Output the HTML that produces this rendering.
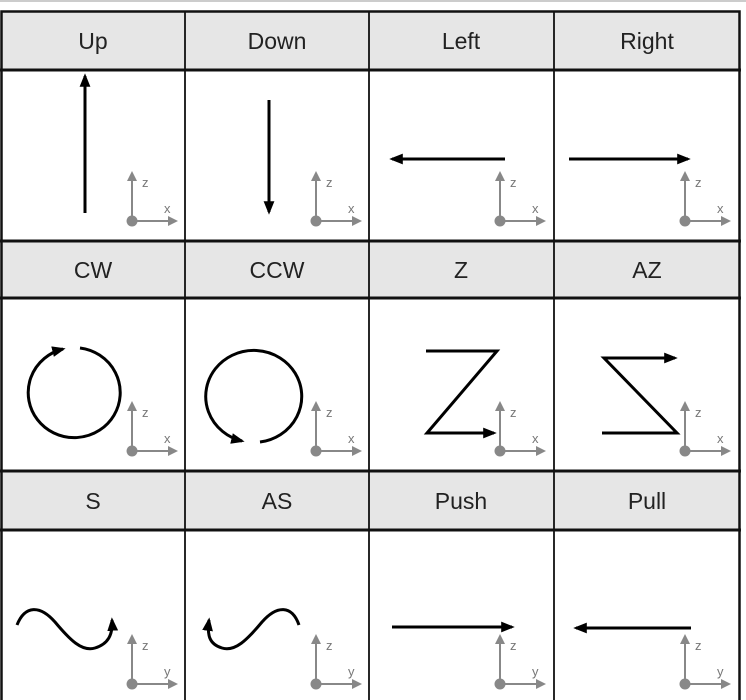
<!DOCTYPE html>
<html><head><meta charset="utf-8"><style>
html,body{margin:0;padding:0;background:#fff;}
svg{display:block;}
text{font-family:"Liberation Sans",sans-serif;}
</style></head><body>
<svg width="746" height="700" viewBox="0 0 746 700">
<defs>
<marker id="ah" viewBox="0 0 10 10" refX="8" refY="5" markerWidth="4.5" markerHeight="4.5" orient="auto-start-reverse" markerUnits="strokeWidth"><path d="M0,1 L10,5 L0,9 Z" fill="#000"/></marker>
<marker id="gh" viewBox="0 0 10 10" refX="8" refY="5" markerWidth="5" markerHeight="5" orient="auto" markerUnits="strokeWidth"><path d="M0,0 L10,5 L0,10 Z" fill="#888"/></marker>
</defs>
<line x1="0" y1="1" x2="746" y2="1" stroke="#ccc" stroke-width="2"/>
<g>
<rect x="1" y="11" width="739" height="59" fill="#e6e6e6"/>
<rect x="1" y="241" width="739" height="57" fill="#e6e6e6"/>
<rect x="1" y="471" width="739" height="59" fill="#e6e6e6"/>
</g>
<g stroke="#111" fill="none">
<rect x="1.5" y="11.5" width="738" height="700" stroke-width="2.5"/>
<line x1="0" y1="70" x2="741" y2="70" stroke-width="3"/>
<line x1="0" y1="241" x2="741" y2="241" stroke-width="3"/>
<line x1="0" y1="298" x2="741" y2="298" stroke-width="3"/>
<line x1="0" y1="471" x2="741" y2="471" stroke-width="3"/>
<line x1="0" y1="530" x2="741" y2="530" stroke-width="3"/>
<line x1="185" y1="11" x2="185" y2="700" stroke-width="1.8"/>
<line x1="369" y1="11" x2="369" y2="700" stroke-width="1.8"/>
<line x1="554" y1="11" x2="554" y2="700" stroke-width="1.8"/>
</g>
<g font-size="23" fill="#222" text-anchor="middle">
<text x="93" y="49">Up</text>
<text x="277" y="49">Down</text>
<text x="461" y="49">Left</text>
<text x="647" y="49">Right</text>
<text x="93" y="278">CW</text>
<text x="277" y="278">CCW</text>
<text x="461" y="278">Z</text>
<text x="647" y="278">AZ</text>
<text x="93" y="509">S</text>
<text x="277" y="509">AS</text>
<text x="461" y="509">Push</text>
<text x="647" y="509">Pull</text>
</g>
<g stroke="#000" stroke-width="3" fill="none" stroke-linecap="butt" marker-end="url(#ah)">
<line x1="85" y1="213" x2="85" y2="76"/>
<line x1="269" y1="100" x2="269" y2="212"/>
<line x1="505" y1="159" x2="392" y2="159"/>
<line x1="569" y1="159" x2="688" y2="159"/>
<path d="M80,348 A46,45 0 1 1 63,349"/>
<path d="M260,442 A48,46 0 1 0 242,441"/>
<polyline points="426,351 497,351 427,433 494,433"/>
<polyline points="602,433 677,433 604,358 675,358"/>
<path d="M17,625 C25,605 40,605 55,622 C70,640 82,652 95,648 C108,644 113,635 112,620"/>
<path d="M299,625 C292,605 277,605 262,622 C247,640 235,652 222,648 C209,644 207,635 209,620"/>
<line x1="392" y1="627" x2="512" y2="627"/>
<line x1="691" y1="628" x2="576" y2="628"/>
</g>
<g id="axes"></g>
</svg>
<script>
const cols=[132,316,500,685];
const rowsY=[221,451,684];
const g=document.getElementById('axes');
const ns='http://www.w3.org/2000/svg';
rowsY.forEach((cy,ri)=>cols.forEach(cx=>{
  const grp=document.createElementNS(ns,'g');
  
  
  grp.innerHTML=
   `<line x1="${cx}" y1="${cy}" x2="${cx}" y2="${cy-48}" stroke="#888" stroke-width="2" marker-end="url(#gh)"/>`+
   `<line x1="${cx}" y1="${cy}" x2="${cx+44}" y2="${cy}" stroke="#888" stroke-width="2" marker-end="url(#gh)"/>`+
   `<circle cx="${cx}" cy="${cy}" r="5.5" fill="#888"/>`+
   `<text x="${cx+10}" y="${cy-34}" font-size="13" fill="#777">z</text>`+
   `<text x="${cx+32}" y="${cy-8}" font-size="13" fill="#777">${ri==2?'y':'x'}</text>`;
  g.appendChild(grp);
}));
</script>
</body></html>
